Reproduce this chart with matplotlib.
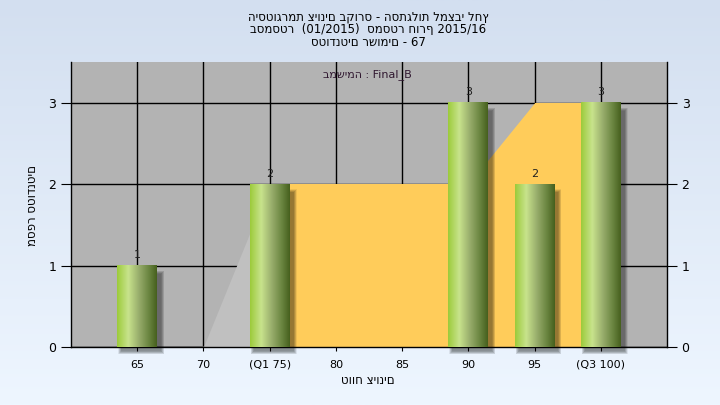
import matplotlib

matplotlib.use("Agg")

import matplotlib.pyplot as plt
import numpy as np
from matplotlib.colors import LinearSegmentedColormap
from matplotlib.patches import Rectangle


# data
grades = ["65", "70", "(Q1 75)", "80", "85", "90", "95", "(Q3 100)"]
counts = [1, 0, 2, 0, 0, 3, 2, 3]
area_values = [0, 0, 2, 2, 2, 2, 3, 3]

title_lines = [
    "היסטוגרמת ציונים בקורס - הסתגלות למצבי לחץ",
    "בסמסטר  (01/2015)  סמסטר חורף 2015/16",
    "סטודנטים רשומים - 67",
]
subtitle = "במשימה : Final_B"
xlabel = "טווח ציונים"
ylabel = "מספר סטודנטים"

plt.rcParams["font.family"] = ["DejaVu Sans"]

W, H = 720, 405
fig = plt.figure(figsize=(W / 100, H / 100), dpi=100)

# light blue gradient background
bg_ax = fig.add_axes([0, 0, 1, 1], zorder=-10)
bg_cmap = LinearSegmentedColormap.from_list("bg", ["#d3dff0", "#eef6ff"])
bg_ax.imshow(
    np.linspace(0, 1, 256).reshape(-1, 1),
    cmap=bg_cmap,
    aspect="auto",
    extent=(0, 1, 0, 1),
)
bg_ax.set_axis_off()

left, right, top, bottom = 71, 667, 62, 347
ax = fig.add_axes([left / W, (H - bottom) / H, (right - left) / W, (bottom - top) / H])
ax.set_facecolor("#b3b3b3")

x = np.arange(len(grades))
ax.set_xlim(-1, len(grades))
ax.set_ylim(0, 3.5)

# grid under everything
ax.set_axisbelow(True)
ax.grid(True, color="black", linewidth=1)

# area series behind bars
for i in range(len(x) - 1):
    seg_x = x[i:i + 2]
    seg_y = area_values[i:i + 2]
    if seg_y[0] == 0 and seg_y[1] == 0:
        ax.plot(seg_x, [0.0, 0.0], color="#707070", linewidth=1.2, zorder=1.5, clip_on=False)
        continue
    color = "#c0c0c0" if seg_y[0] == 0 else "#ffcc5a"
    ax.fill_between(seg_x, 0, seg_y, color=color, linewidth=0, zorder=1.5)

# bars: soft shadow + cylinder-like gradient
bar_cmap = LinearSegmentedColormap.from_list(
    "bar",
    [
        (0.0, "#9ccb3b"),
        (0.28, "#c8e38c"),
        (0.55, "#98ad6c"),
        (0.8, "#6a8540"),
        (1.0, "#46601e"),
    ],
)
gradient = np.linspace(0, 1, 128).reshape(1, -1)
bar_width = 0.6
px_x = (len(grades) + 1) / (right - left)
px_y = 3.5 / (bottom - top)

for xi, value in zip(x, counts):
    if value == 0:
        continue
    # blurred drop shadow, offset right/down
    for grow in range(6, -1, -1):
        ax.add_patch(
            Rectangle(
                (xi - bar_width / 2 + (4 - grow / 2) * px_x, -(4 + grow / 2) * px_y),
                bar_width + grow * px_x,
                value - 4 * px_y + grow * px_y,
                facecolor="black",
                alpha=0.07,
                linewidth=0,
                zorder=2,
                clip_on=False,
            )
        )
    ax.imshow(
        gradient,
        cmap=bar_cmap,
        aspect="auto",
        extent=(xi - bar_width / 2, xi + bar_width / 2, 0, value),
        zorder=3,
    )
    ax.annotate(
        str(value),
        (xi, value),
        xytext=(0, 4),
        textcoords="offset points",
        ha="center",
        va="bottom",
        fontsize=8,
        color="#202020",
        zorder=4,
    )

ax.set_xlim(-1, len(grades))
ax.set_ylim(0, 3.5)

ax.set_xticks(x)
ax.set_xticklabels(grades)
ax.set_yticks([0, 1, 2, 3])
ax.tick_params(axis="x", length=3, labelsize=8, pad=6)
ax.tick_params(axis="y", length=7, labelsize=9, right=True, labelright=True)

for side in ["left", "right", "bottom"]:
    ax.spines[side].set_color("black")
    ax.spines[side].set_linewidth(1)
ax.spines["top"].set_visible(False)

ax.text(0.498, 0.955, subtitle, transform=ax.transAxes, ha="center", va="center",
        fontsize=8, color="#301830")

for i, line in enumerate(title_lines):
    fig.text(368 / W, 1 - (17 + i * 12.5) / H, line, ha="center", va="center",
             fontsize=8.5, color="black")

fig.text(368 / W, 1 - 381 / H, xlabel, ha="center", va="center", fontsize=8.5)
fig.text(33 / W, 1 - 205 / H, ylabel, ha="center", va="center", rotation=90, fontsize=8.5)

fig.savefig("out.png", dpi=100)
plt.close(fig)
